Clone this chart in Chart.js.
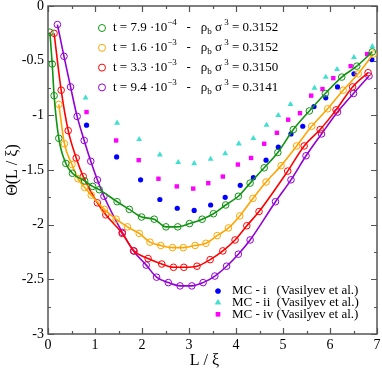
<!DOCTYPE html>
<html>
<head>
<meta charset="utf-8">
<script src="https://cdn.jsdelivr.net/npm/chart.js@4"></script>
<style>
  body { margin: 0; background: #fff; }
  canvas { display: block; }
</style>
</head>
<body>
<canvas id="theta-chart" width="382" height="371"></canvas>
<script>
// t = 7.9e-4
const greenX = [0.04, 0.09, 0.13, 0.23, 0.38, 0.52, 0.78, 0.95, 1.09, 1.47, 1.73, 1.99, 2.26, 2.51, 2.76, 3.01, 3.28, 3.52, 3.78, 4.05, 4.30, 4.60, 4.89, 5.22, 5.56, 5.90, 6.25, 6.57, 6.90]
const greenY = [-0.24, -0.53, -0.82, -1.21, -1.44, -1.53, -1.60, -1.65, -1.68, -1.79, -1.86, -1.93, -1.95, -2.02, -2.02, -1.99, -1.95, -1.90, -1.82, -1.74, -1.62, -1.48, -1.34, -1.13, -0.96, -0.80, -0.65, -0.55, -0.42]
// t = 1.6e-3
const orangeX = [0.23, 0.35, 0.51, 0.64, 0.78, 0.92, 1.20, 1.45, 1.69, 1.94, 2.17, 2.40, 2.65, 2.88, 3.13, 3.36, 3.60, 3.84, 4.08, 4.36, 4.64, 4.96, 5.29, 5.61, 5.95, 6.28, 6.60, 6.92]
const orangeY = [-0.90, -1.26, -1.45, -1.58, -1.66, -1.73, -1.86, -1.95, -2.02, -2.08, -2.16, -2.19, -2.21, -2.21, -2.19, -2.17, -2.10, -2.03, -1.92, -1.76, -1.61, -1.46, -1.28, -1.10, -0.94, -0.77, -0.62, -0.44]
// t = 3.3e-3
const redX = [0.13, 0.28, 0.43, 0.60, 0.75, 1.05, 1.23, 1.58, 1.83, 2.13, 2.42, 2.67, 2.89, 3.17, 3.45, 3.72, 3.98, 4.23, 4.49, 5.10, 5.45, 5.79, 6.13, 6.48, 6.81]
const redY = [-0.25, -0.77, -1.14, -1.39, -1.56, -1.80, -1.91, -2.08, -2.24, -2.31, -2.36, -2.39, -2.39, -2.38, -2.32, -2.24, -2.14, -2.01, -1.88, -1.51, -1.28, -1.13, -0.95, -0.74, -0.61]
// t = 9.4e-3
const purpleX = [0.20, 0.34, 0.48, 0.62, 0.77, 0.91, 1.05, 1.19, 1.58, 1.82, 2.09, 2.31, 2.56, 2.81, 3.06, 3.30, 3.55, 3.80, 4.05, 4.30, 4.84, 5.17, 5.49, 5.82, 6.16, 6.50, 6.83]
const purpleY = [-0.17, -0.46, -0.74, -1.01, -1.23, -1.42, -1.59, -1.74, -2.07, -2.24, -2.37, -2.48, -2.53, -2.56, -2.56, -2.53, -2.47, -2.38, -2.27, -2.14, -1.79, -1.59, -1.37, -1.17, -0.97, -0.80, -0.64]

// Monte Carlo (Vasilyev et al.)
const mc1X = [0.82, 1.46, 1.97, 2.38, 2.75, 3.11, 3.46, 3.77, 4.09, 4.37, 4.64, 4.90, 5.17, 5.42, 5.66, 5.91, 6.16, 6.51, 6.89]
const mc1Y = [-1.09, -1.38, -1.59, -1.77, -1.85, -1.87, -1.82, -1.75, -1.64, -1.57, -1.41, -1.29, -1.17, -1.10, -0.92, -0.84, -0.74, -0.62, -0.49]
const mc2X = [0.80, 1.47, 1.94, 2.38, 2.77, 3.11, 3.46, 3.77, 4.06, 4.37, 4.65, 4.90, 5.16, 5.67, 5.91, 6.15, 6.51, 6.90]
const mc2Y = [-0.84, -1.07, -1.22, -1.36, -1.43, -1.44, -1.40, -1.35, -1.26, -1.21, -1.09, -1.00, -0.90, -0.75, -0.65, -0.58, -0.47, -0.37]
const mc4X = [0.82, 1.45, 1.93, 2.35, 2.74, 3.09, 3.41, 3.72, 4.04, 4.32, 4.60, 4.87, 5.11, 5.36, 5.60, 5.84, 6.07, 6.44, 6.79]
const mc4Y = [-0.97, -1.23, -1.41, -1.58, -1.65, -1.67, -1.62, -1.56, -1.45, -1.39, -1.26, -1.16, -1.04, -0.98, -0.82, -0.76, -0.66, -0.55, -0.44]

const tempLabels = ["7.9", "1.6", "3.3", "9.4"]
const tempExps = ["-4", "-3", "-3", "-3"]
const densities = ["0.3152", "0.3152", "0.3150", "0.3141"]
const mcLabels = ["MC - i   (Vasilyev et al.)", "MC - ii  (Vasilyev et al.)", "MC - iv (Vasilyev et al.)"]

const xTicks = [0, 1, 2, 3, 4, 5, 6, 7]
const yTicks = [0, -0.5, -1, -1.5, -2, -2.5, -3]

const SERIF = "'Liberation Serif', 'DejaVu Serif', serif"
const theoryColors = ["#0f9410", "#ffa500", "#ff0000", "#9400d3"]
const mcColors = ["#0000ff", "#40e0d0", "#ff00ff"]
const mcStyles = ["circle", "triangle", "rect"]
const mcRadius = [2.6, 3.4, 3.1]

const toPoints = (xs, ys) => xs.map((x, i) => ({ x: x, y: ys[i] }))

const theorySets = [[greenX, greenY], [orangeX, orangeY], [redX, redY], [purpleX, purpleY]].map(([xs, ys], i) => ({
  label: "t" + i,
  data: toPoints(xs, ys),
  showLine: true,
  cubicInterpolationMode: "monotone",
  borderColor: theoryColors[i],
  borderWidth: 1.6,
  backgroundColor: "rgba(0,0,0,0)",
  pointStyle: "circle",
  pointRadius: 3.3,
  pointBorderWidth: 1,
  pointBorderColor: theoryColors[i],
  pointBackgroundColor: "rgba(0,0,0,0)",
}))

const mcSets = [[mc1X, mc1Y], [mc2X, mc2Y], [mc4X, mc4Y]].map(([xs, ys], i) => ({
  label: "mc" + i,
  data: toPoints(xs, ys),
  showLine: false,
  pointStyle: mcStyles[i],
  pointRadius: mcRadius[i],
  pointBorderWidth: 0,
  pointBackgroundColor: mcColors[i],
  backgroundColor: mcColors[i],
}))

// frame + inward ticks on all four sides
const framePlugin = {
  id: "frame",
  beforeDatasetsDraw(chart) {
    const { ctx, chartArea: a, scales: { x, y } } = chart
    ctx.save()
    ctx.strokeStyle = "#555"
    ctx.lineWidth = 1.5
    ctx.strokeRect(a.left, a.top, a.right - a.left, a.bottom - a.top)
    ctx.lineWidth = 1.2
    ctx.beginPath()
    for (let v = 0; v <= 7.001; v += 0.5) {
      const px = Math.round(x.getPixelForValue(v)) + 0.5
      const len = Math.abs(v - Math.round(v)) < 0.01 ? 6 : 3
      ctx.moveTo(px, a.bottom); ctx.lineTo(px, a.bottom - len)
      ctx.moveTo(px, a.top); ctx.lineTo(px, a.top + len)
    }
    for (let v = 0; v >= -3.001; v -= 0.25) {
      const py = Math.round(y.getPixelForValue(v)) + 0.5
      const len = Math.abs(v * 2 - Math.round(v * 2)) < 0.01 ? 6 : 3
      ctx.moveTo(a.left, py); ctx.lineTo(a.left + len, py)
      ctx.moveTo(a.right, py); ctx.lineTo(a.right - len, py)
    }
    ctx.stroke()
    ctx.restore()
  }
}

// text with super/subscripts, segments are [text, mode]
const drawRich = (ctx, x, y, segs) => {
  for (const [txt, mode] of segs) {
    const size = mode ? 9 : 13
    const dy = mode === "sup" ? -5 : mode === "sub" ? 4 : 0
    ctx.font = size + "px " + SERIF
    ctx.fillText(txt, x, y + dy)
    x += ctx.measureText(txt).width
  }
}

const legendPlugin = {
  id: "legends",
  afterDraw(chart) {
    const { ctx } = chart
    ctx.save()
    ctx.textBaseline = "middle"
    ctx.fillStyle = "#000"
    for (let i = 0; i < tempLabels.length; i++) {
      const y = 28 + i * 19.8
      ctx.strokeStyle = theoryColors[i]
      ctx.lineWidth = 1
      ctx.beginPath()
      ctx.arc(102, y, 3.5, 0, Math.PI * 2)
      ctx.stroke()
      ctx.fillStyle = "#000"
      drawRich(ctx, 113, y, [
        ["t = " + tempLabels[i] + " \u00b710", ""],
        [tempExps[i].replace("-", "\u2212"), "sup"],
        ["   -   \u03c1", ""],
        ["b", "sub"],
        [" \u03c3", ""],
        [" 3", "sup"],
        [" = " + densities[i], ""],
      ])
    }
    for (let i = 0; i < mcLabels.length; i++) {
      const y = 291 + i * 11.6
      ctx.fillStyle = mcColors[i]
      Chart.helpers.drawPoint(ctx, { pointStyle: mcStyles[i], radius: mcRadius[i], borderWidth: 0 }, 218, y)
      ctx.fill()
      ctx.fillStyle = "#000"
      ctx.font = "13px " + SERIF
      ctx.fillText(mcLabels[i], 232, y)
    }
    ctx.restore()
  }
}

const canvas = document.getElementById("theta-chart")
const ctx = canvas.getContext("2d")

new Chart(ctx, {
  type: "scatter",
  data: { datasets: theorySets.concat(mcSets) },
  options: {
    responsive: false,
    animation: false,
    layout: { padding: { left: 0, right: 5, top: 6, bottom: 0 } },
    plugins: { legend: { display: false }, tooltip: { enabled: false } },
    scales: {
      x: {
        type: "linear",
        min: 0,
        max: 7,
        afterBuildTicks: (s) => { s.ticks = xTicks.map(v => ({ value: v })) },
        afterFit: (s) => { s.height = 37; s.paddingLeft = 0; s.paddingRight = 0 },
        grid: { display: false, drawTicks: false },
        border: { display: false },
        ticks: { color: "#000", padding: 3, font: { family: SERIF, size: 14 }, callback: (v) => String(v) },
        title: { display: true, text: "L / \u03be    ", color: "#000", font: { family: SERIF, size: 16 }, padding: { top: 0, bottom: 1 } },
      },
      y: {
        type: "linear",
        min: -3,
        max: 0,
        afterBuildTicks: (s) => { s.ticks = yTicks.map(v => ({ value: v })) },
        afterFit: (s) => { s.width = 48; s.paddingTop = 0; s.paddingBottom = 0 },
        grid: { display: false, drawTicks: false },
        border: { display: false },
        ticks: { color: "#000", padding: 4, font: { family: SERIF, size: 14 }, callback: (v) => String(v) },
        title: { display: true, text: "\u0398(L / \u03be)", color: "#000", font: { family: SERIF, size: 16 }, padding: { top: 3, bottom: 0 } },
      },
    },
  },
  plugins: [framePlugin, legendPlugin],
})
</script>
</body>
</html>
